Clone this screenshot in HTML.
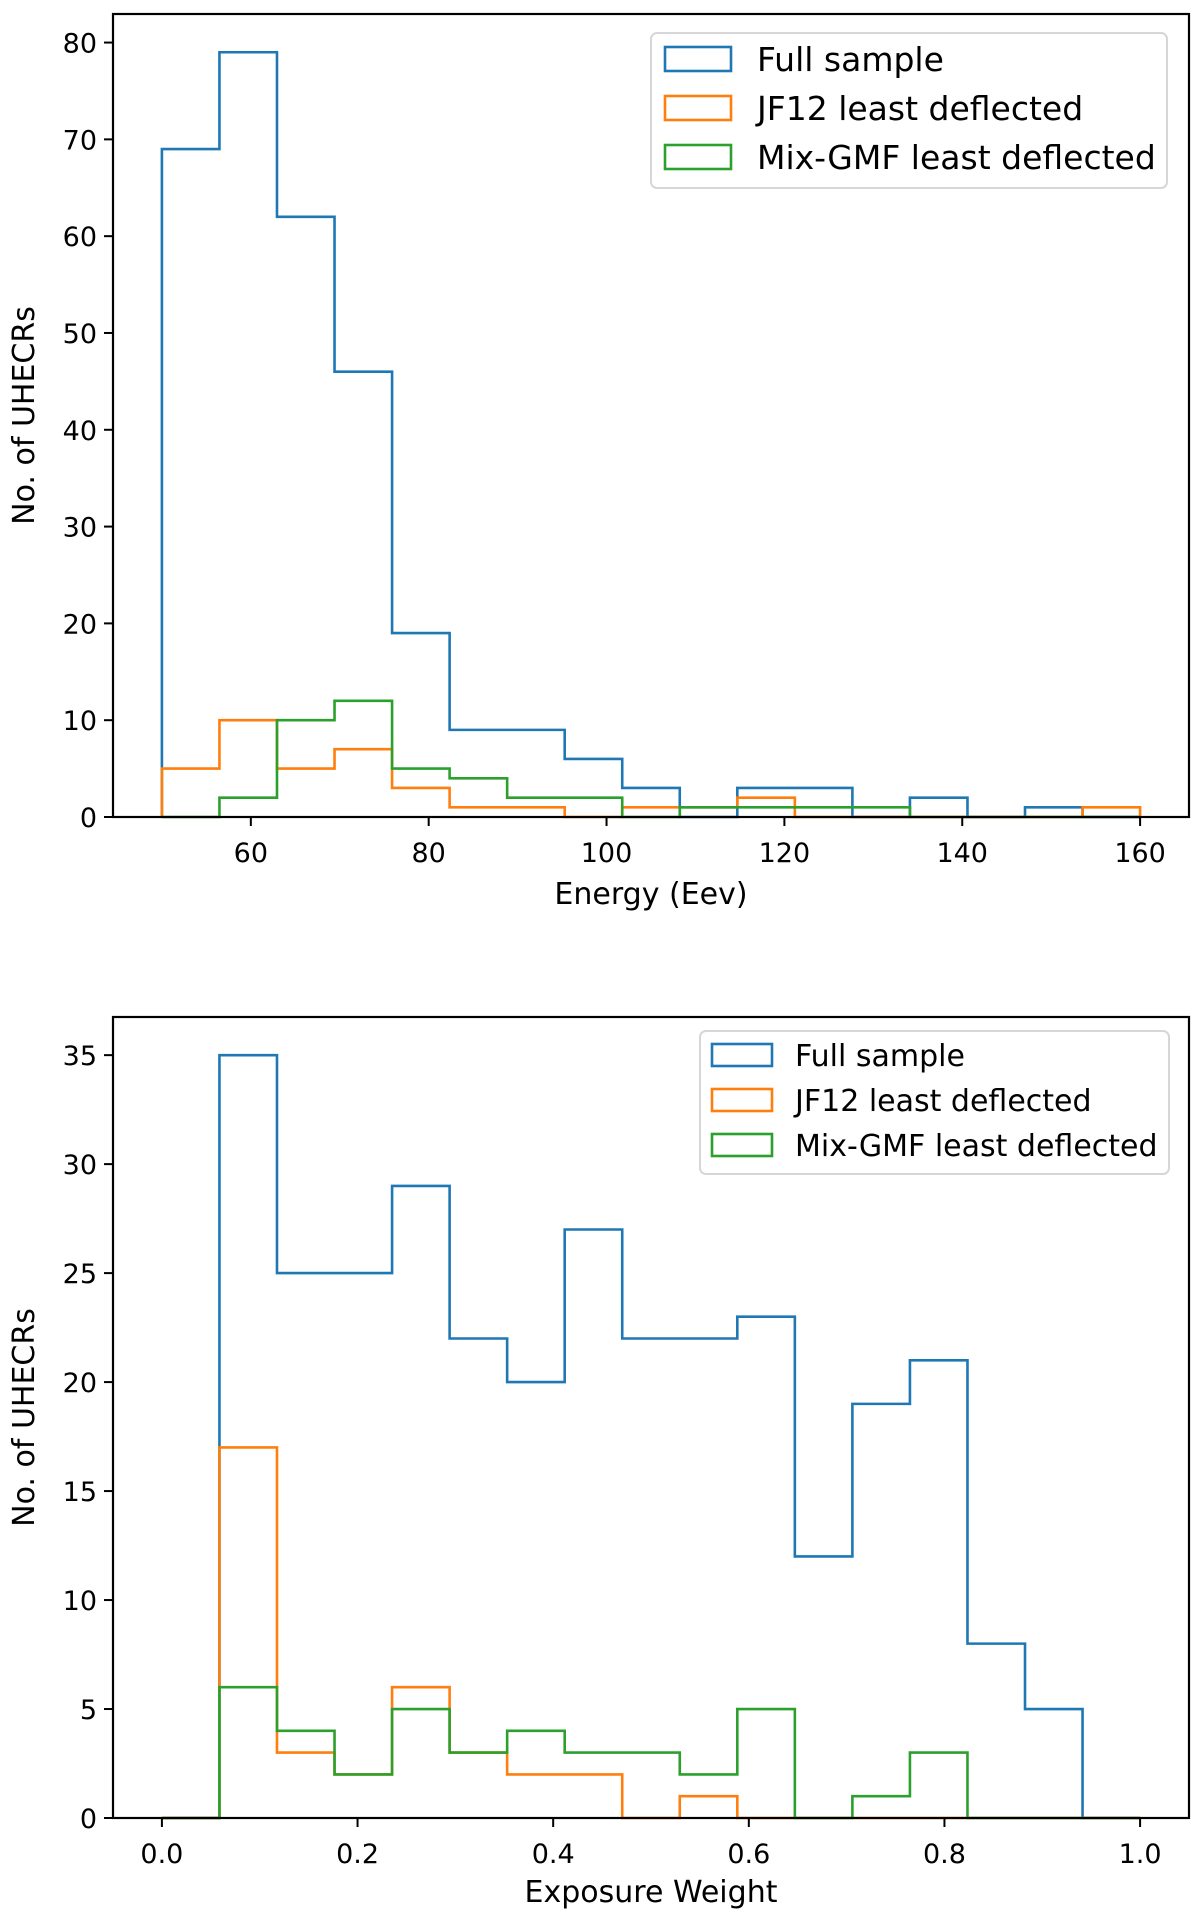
<!DOCTYPE html>
<html><head><meta charset="utf-8"><style>
html,body{margin:0;padding:0;background:#fff;}
svg{display:block;font-family:"DejaVu Sans","Liberation Sans",sans-serif;}
</style></head><body>
<svg id="fig" width="1200" height="1917" viewBox="0 0 1200 1917" xmlns="http://www.w3.org/2000/svg"></svg>
<script>
// ---- Chart 1: Energy histogram ----
const energyEdgesRange = [50, 160];
const energyBinCount = 17;
const energyFull = [69,79,62,46,19,9,9,6,3,0,3,3,0,2,0,1,0];
const energyJF12 = [5,10,5,7,3,1,1,0,1,1,2,0,0,0,0,0,1];
const energyMix = [0,2,10,12,5,4,2,2,0,1,1,1,1,0,0,0,0];
const energyXTicks = [60,80,100,120,140,160];
const energyYTicks = [0,10,20,30,40,50,60,70,80];
// ---- Chart 2: Exposure weight histogram ----
const expEdgesRange = [0, 1];
const expBinCount = 17;
const expFull = [0,35,25,25,29,22,20,27,22,22,23,12,19,21,8,5,0];
const expJF12 = [0,17,3,2,6,3,2,2,0,1,0,0,0,0,0,0,0];
const expMix = [0,6,4,2,5,3,4,3,3,2,5,0,1,3,0,0,0];
const expXTicks = [0.0,0.2,0.4,0.6,0.8,1.0];
const expYTicks = [0,5,10,15,20,25,30,35];
const seriesLabels = ["Full sample","JF12 least deflected","Mix-GMF least deflected"];
const colors = ["#1f77b4","#ff7f0e","#2ca02c"];

const NS = "http://www.w3.org/2000/svg";
const svg = document.getElementById('fig');
function mk(tag, attrs, parent){
  const e = document.createElementNS(NS, tag);
  for (const k in attrs) e.setAttribute(k, attrs[k]);
  (parent||svg).appendChild(e);
  return e;
}

function drawChart(cfg){
  const g = mk('g', {});
  
  
  const L=cfg.left,R=cfg.right,T=cfg.top,B=cfg.bottom;
  const [d0,d1]=cfg.range;
  const span=d1-d0, xmin=d0-0.05*span, xmax=d1+0.05*span;
  const maxv=Math.max(...cfg.series.flat());
  const ymax=maxv*1.05;
  const X=v=>L+(v-xmin)/(xmax-xmin)*(R-L);
  const Y=v=>B-v/ymax*(B-T);
  const n=cfg.bins, w=span/n;
  cfg.series.forEach((vals,si)=>{
    let d=`M${X(d0)},${Y(0)}`;
    for(let i=0;i<n;i++){
      d+=` L${X(d0+i*w)},${Y(vals[i])} L${X(d0+(i+1)*w)},${Y(vals[i])}`;
    }
    d+=` L${X(d1)},${Y(0)}`;
    const p=mk('path',{d:d,fill:'none',stroke:colors[si],'stroke-width':2.6,'stroke-linejoin':'miter'},g);
    
    
  });
  const fr=mk('rect',{x:L,y:T,width:R-L,height:B-T,fill:'none',stroke:'#000','stroke-width':2.2},g);
  
  
  cfg.xticks.forEach(t=>{
    mk('line',{x1:X(t),x2:X(t),y1:B,y2:B+9,stroke:'#000','stroke-width':2},g);
    const tx=mk('text',{x:X(t),y:B+45,'font-size':27,'text-anchor':'middle',fill:'#000'},g);
    tx.textContent=cfg.xfmt(t);
    
    
  });
  cfg.yticks.forEach(t=>{
    mk('line',{x1:L-9,x2:L,y1:Y(t),y2:Y(t),stroke:'#000','stroke-width':2},g);
    const tx=mk('text',{x:L-16,y:Y(t)+10,'font-size':27,'text-anchor':'end',fill:'#000'},g);
    tx.textContent=String(t);
    
    
  });
  const xl=mk('text',{x:(L+R)/2,y:cfg.xlabelY,'font-size':30,'text-anchor':'middle',fill:'#000'},g);
  xl.textContent=cfg.xlabel;
  
  
  const cy=(T+B)/2;
  const yl=mk('text',{x:0,y:0,'font-size':30,'text-anchor':'middle',fill:'#000',transform:`translate(34,${cy}) rotate(-90)`},g);
  yl.textContent='No. of UHECRs';
  
  
  // legend
  const lg=mk('g',{},g);
  
  
  const lb=cfg.legend;
  mk('rect',{x:lb.x,y:lb.y,width:lb.w,height:lb.h,rx:6,fill:'#fff','fill-opacity':0.8,stroke:'#d6d6d6','stroke-width':2},lg);
  seriesLabels.forEach((s,i)=>{
    const cyy=lb.y0+i*lb.dy;
    const it=mk('g',{},lg);
    
    
    mk('rect',{x:lb.px,y:cyy-lb.ph/2,width:lb.pw,height:lb.ph,fill:'none',stroke:colors[i],'stroke-width':2.6},it);
    const t=mk('text',{x:lb.tx,y:cyy+lb.fs*0.36,'font-size':lb.fs,fill:'#000'},it);
    t.textContent=s;
  });
}

drawChart({name:'energy-histogram',left:113,right:1189,top:14,bottom:817,range:energyEdgesRange,bins:energyBinCount,
  series:[energyFull,energyJF12,energyMix],xticks:energyXTicks,yticks:energyYTicks,xfmt:t=>String(t),
  xlabel:'Energy (Eev)',xlabelY:904,
  legend:{x:651,y:33,w:516,h:155,y0:59,dy:49,px:665,pw:66,ph:24,tx:757,fs:33}});
drawChart({name:'exposure-weight-histogram',left:113,right:1189,top:1017,bottom:1818,range:expEdgesRange,bins:expBinCount,
  series:[expFull,expJF12,expMix],xticks:expXTicks,yticks:expYTicks,xfmt:t=>t.toFixed(1),
  xlabel:'Exposure Weight',xlabelY:1902,
  legend:{x:700,y:1031,w:469,h:143,y0:1055,dy:45,px:712,pw:60,ph:22,tx:795,fs:30}});
</script>
</body></html>
